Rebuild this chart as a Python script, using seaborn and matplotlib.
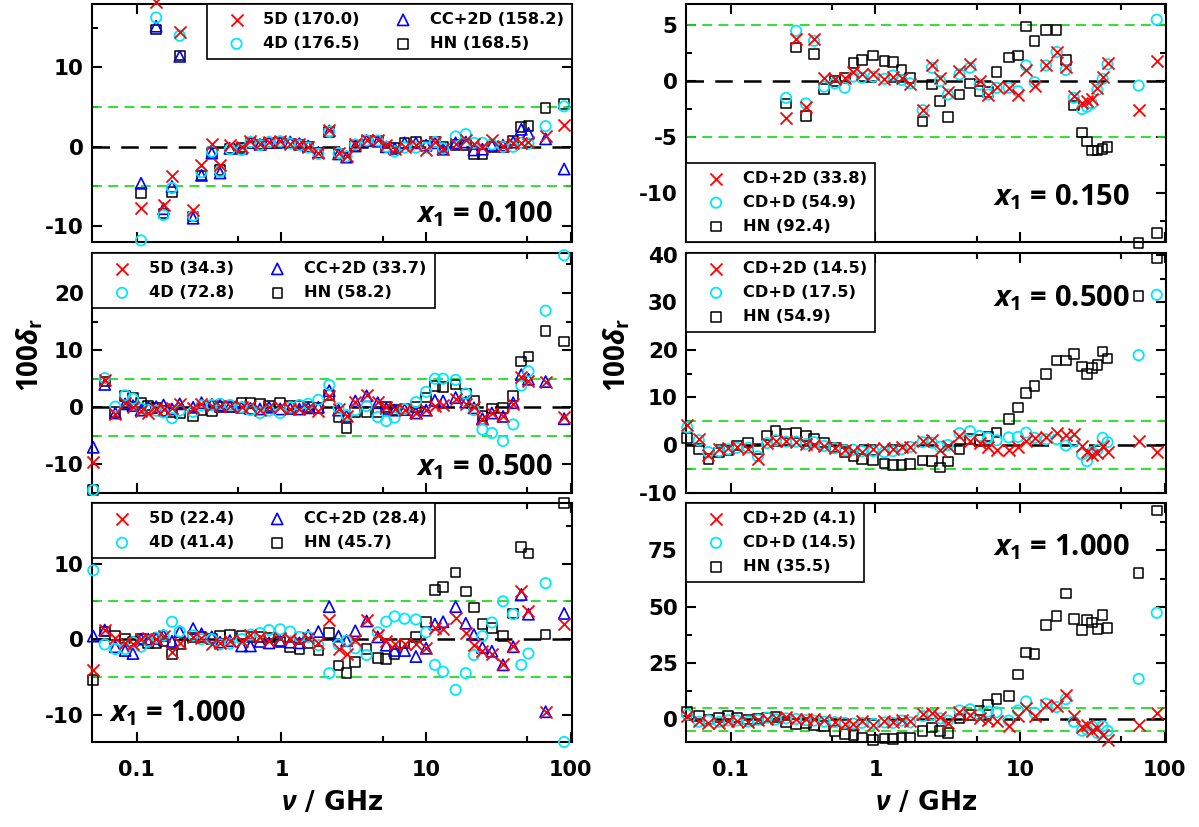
#!/usr/bin/env python3

# Import libraries
import numpy as np
import matplotlib
matplotlib.use("Agg")
import matplotlib.pyplot as plt
import seaborn as sns

nan = np.nan

# frequencies (GHz)
freq_left = [0.05, 0.06, 0.071, 0.083, 0.094, 0.107, 0.12, 0.136, 0.153, 0.175,
             0.198, 0.245, 0.28, 0.33, 0.376, 0.44, 0.53, 0.61, 0.71, 0.82,
             0.98, 1.15, 1.33, 1.53, 1.80, 2.14, 2.48, 2.82, 3.24, 3.88,
             4.63, 5.3, 6.05, 7.1, 8.5, 10.0, 11.5, 13.1, 16.0, 18.8,
             21.4, 24.5, 28.5, 34.0, 40.0, 45.5, 51.0, 67.0, 90.0]
freq_right = [0.05, 0.06, 0.07, 0.083, 0.096, 0.11, 0.132, 0.154, 0.178, 0.204,
              0.241, 0.283, 0.33, 0.376, 0.441, 0.523, 0.613, 0.703, 0.806, 0.966,
              1.153, 1.32, 1.515, 1.736, 2.12, 2.457, 2.80, 3.17, 3.81, 4.51,
              5.24, 6.0, 6.87, 8.34, 9.67, 11.0, 12.6, 15.1, 17.9, 20.7,
              23.5, 26.8, 29.0, 31.4, 34.2, 37.2, 40.2, 66.0, 88.0]

# x1 = 0.100 (left, top)
a_5d = [nan, nan, nan, nan, nan, -7.7, nan, 18.2, -7.3, -3.7,
        14.5, -8.0, -2.3, 0.3, -2.3, 0.2, 0.0, 0.7, 0.3, 0.6,
        0.7, 0.4, 0.3, 0.0, -0.8, 2.1, -0.8, -1.2, 0.3, 0.9,
        0.9, 0.2, -0.3, 0.0, 0.2, -0.4, 0.6, -0.3, 0.4, 0.8,
        0.3, 0.0, 0.8, 0.1, 0.5, 0.5, 0.6, 1.4, 2.7]
a_4d = [nan, nan, nan, nan, nan, -11.8, nan, 16.3, -8.6, -5.2,
        14.0, -8.7, -3.2, -0.6, -3.1, -0.3, -0.4, 0.6, 0.2, 0.6,
        0.7, 0.4, 0.2, -0.1, -0.9, 1.9, -0.8, -1.2, 0.3, 0.8,
        0.8, 0.0, -0.6, -0.1, -0.1, -0.1, 0.6, -0.2, 1.3, 1.6,
        0.5, 0.5, 0.3, 0.0, 0.0, 0.5, 0.4, 2.6, 5.1]
a_cc = [nan, nan, nan, nan, nan, -4.6, nan, 15.2, -7.8, -5.0,
        11.4, -9.0, -3.6, -0.8, -3.3, -0.2, -0.2, 0.6, 0.3, 0.6,
        0.6, 0.6, 0.4, 0.1, -0.7, 2.0, -0.9, -1.3, 0.1, 0.8,
        0.7, 0.0, -0.2, 0.5, 0.5, 0.2, 0.5, -0.3, 0.5, 0.6,
        -0.4, -0.3, 0.2, 0.2, 0.6, 2.2, 1.7, 1.0, -2.8]
a_hn = [nan, nan, nan, nan, nan, -5.8, nan, 14.8, -8.4, -5.7,
        11.5, -8.8, -3.6, -0.7, -2.9, -0.2, -0.1, 0.5, 0.3, 0.5,
        0.6, 0.4, 0.2, 0.0, -0.8, 1.9, -0.9, -1.3, 0.1, 0.7,
        0.7, 0.0, -0.1, 0.5, 0.6, 0.1, 0.6, 0.0, 0.2, 0.2,
        -0.9, -0.9, 0.0, 0.0, 0.8, 2.5, 2.6, 4.9, 5.4]

# x1 = 0.500 (left, middle)
b_5d = [-9.5, 4.7, -1.1, 0.8, 0.1, -0.7, -1.0, -0.3, -0.3, -0.2,
        0.6, -0.1, 0.6, 0.3, 0.3, 0.2, 0.1, 0.2, -0.4, 0.0,
        0.0, -0.3, -0.3, -0.1, -0.6, 2.0, -0.3, -1.5, 1.0, 2.1,
        1.0, 0.0, -0.3, -0.5, -1.0, -0.5, 0.3, 0.4, 1.5, 0.5,
        0.0, -2.0, -1.0, -1.5, 0.6, 5.3, 4.6, 4.5, -1.7]
b_4d = [-14.5, 5.1, 0.1, 2.1, 1.5, -0.2, -0.5, -0.6, -0.9, -1.9,
        -0.6, -0.8, 0.3, 0.4, 0.6, 0.4, 0.0, -0.5, -1.0, -0.6,
        -1.0, 0.0, 0.4, 0.6, 1.3, 3.9, -0.2, -1.4, -0.5, 0.2,
        -1.7, -2.4, -1.8, -0.3, 0.9, 2.7, 5.0, 5.0, 4.8, 2.4,
        -0.5, -3.9, -4.5, -5.9, -3.0, 3.8, 6.3, 16.9, 26.6]
b_cc = [-7.0, 4.0, -1.0, 0.6, 0.3, -0.5, 0.0, 0.1, 0.4, -0.3,
        0.6, 0.0, 0.8, 0.5, 0.4, 0.2, 0.0, -0.2, -0.3, 0.0,
        -0.3, -0.2, -0.3, -0.1, 0.0, 2.9, -0.5, -1.5, 1.1, 2.0,
        0.8, -0.2, -0.5, -0.4, -1.0, -0.5, 1.2, 1.1, 1.7, 0.9,
        -0.1, -2.0, -1.0, -1.6, 0.8, 5.7, 4.9, 4.5, -2.0]
b_hn = [-14.5, 4.5, -0.8, 2.0, 1.7, 0.8, 0.3, -0.1, -0.7, -0.9,
        -1.0, -1.5, -0.5, -0.7, 0.0, 0.1, 0.7, 0.8, 0.6, 0.2,
        0.7, 0.3, 0.3, 0.1, -0.1, 2.2, -1.8, -3.6, -0.8, -0.8,
        -0.8, 0.0, -0.5, -0.3, 0.0, 1.7, 3.7, 3.5, 4.0, 2.4,
        1.2, -1.5, -0.2, -0.1, 2.0, 8.0, 8.9, 13.4, 11.5]

# x1 = 1.000 (left, bottom)
c_5d = [-4.1, 1.2, 0.1, -0.5, -0.6, 0.0, 0.2, 0.0, 0.4, -1.7,
        -0.5, 0.3, 0.2, -0.6, -0.5, -0.3, -0.2, 0.5, 0.3, -0.2,
        0.2, 0.0, -0.3, 0.2, -0.5, 2.5, -1.3, -2.0, -0.1, 2.5,
        0.6, -0.2, -0.6, -0.6, -0.7, -1.2, 1.5, 1.3, 2.8, 0.8,
        -0.8, -1.6, -2.0, -3.3, -0.9, 6.3, 3.7, -9.6, 2.0]
c_4d = [9.1, -0.7, -1.3, -1.3, -0.4, -1.0, -0.3, 0.2, 0.5, 2.3,
        1.0, 0.5, 0.0, 0.0, -0.7, -0.6, 0.0, 0.6, 0.8, 1.2,
        1.3, 1.0, 0.3, 0.3, -0.8, -4.5, -0.7, -0.2, -1.2, -2.1,
        0.9, 2.3, 3.0, 2.7, 2.6, 0.9, -3.4, -4.3, -6.7, -4.5,
        -2.1, 0.4, 2.2, 5.0, 3.3, -3.4, -1.9, 7.4, -13.6]
c_cc = [0.4, 1.2, -1.0, -1.5, -1.9, 0.0, 0.0, 0.1, 0.5, -0.3,
        1.0, 1.4, 0.7, 0.3, -0.4, -0.2, -0.9, -0.9, -0.3, -0.5,
        -0.3, -0.4, -0.5, 0.5, 1.0, 4.3, 0.4, -0.2, 1.1, 2.4,
        0.3, -0.8, -1.5, -1.5, -2.3, -1.2, 2.0, 2.3, 4.3, 2.1,
        0.6, -1.1, -1.6, -3.4, -1.0, 5.9, 3.3, -9.6, 3.4]
c_hn = [-5.4, 1.0, 0.5, 0.1, -0.3, 0.0, -0.6, -0.6, -0.3, -2.0,
        -0.7, 0.2, 0.3, 0.0, 0.5, 0.6, 0.4, 0.3, 0.3, 0.2,
        -0.3, -1.0, -1.3, -0.5, -1.5, 0.8, -3.5, -4.5, -3.0, -1.3,
        -2.5, -2.6, -2.0, -0.6, 0.3, 2.3, 6.5, 6.9, 8.8, 6.3,
        4.2, 2.0, 1.5, 0.4, 3.4, 12.2, 11.3, 0.6, 18.0]

# x1 = 0.150 (right, top)
d_cd2d = [nan, nan, nan, nan, nan, nan, nan, nan, nan, nan,
          -3.3, 3.8, -2.3, 3.8, 0.3, 0.2, 0.3, 0.8, 0.6, 0.6,
          0.2, 0.4, 0.3, -0.3, -2.6, 1.4, 0.3, -1.0, 0.9, 1.5,
          0.0, -1.2, -0.5, -0.6, -1.2, 1.0, -0.4, 1.4, 2.6, 1.3,
          -1.3, -2.0, -1.8, -1.6, -0.6, 0.4, 1.6, -2.6, 1.8]
d_cdd = [nan, nan, nan, nan, nan, nan, nan, nan, nan, nan,
         -1.5, 4.5, -2.0, 3.6, -0.5, -0.2, -0.6, 0.4, 0.3, 0.4,
         0.2, 0.5, 0.1, -0.2, -2.6, 1.2, 0.0, -1.2, 0.6, 1.2,
         -0.3, -1.2, -0.6, -0.6, -0.9, 1.4, -0.1, 1.4, 2.6, 1.0,
         -1.5, -2.5, -2.3, -2.0, -0.8, 0.2, 1.5, -0.4, 5.5]
d_hn = [nan, nan, nan, nan, nan, nan, nan, nan, nan, nan,
        -2.0, 3.0, -3.1, 2.4, -0.7, 0.0, 0.3, 1.6, 1.9, 2.3,
        1.8, 1.7, 1.0, 0.3, -3.6, -0.3, -1.8, -3.2, -1.2, -0.2,
        -0.9, -1.0, 0.8, 2.1, 2.3, 4.9, 3.6, 4.6, 4.6, 1.9,
        -2.2, -4.6, -5.4, -6.2, -6.2, -6.1, -5.9, -14.5, -13.6]

# x1 = 0.500 (right, middle)
e_cd2d = [4.2, 1.2, -2.0, -0.8, -0.7, -0.5, -0.8, -2.9, 0.5, 0.9,
          0.8, 0.6, 0.3, 0.0, -0.2, -0.6, -1.0, -1.3, -1.4, -0.9,
          -0.7, -0.9, -0.5, -0.5, 0.8, 1.0, -1.1, -0.3, 1.9, 0.8,
          0.4, -0.5, -1.0, -1.0, -0.5, 0.8, 1.4, 1.6, 2.5, 2.0,
          2.3, -0.3, -1.5, -2.0, -1.6, -0.2, -1.5, 0.8, -1.5]
e_cdd = [3.7, 1.0, -1.5, -1.3, -0.9, -0.6, -0.6, -2.4, 0.4, 1.0,
         0.7, 0.7, 0.2, 0.6, -0.2, -0.7, -1.1, -1.0, -1.3, -1.3,
         -1.5, -1.3, -0.9, -0.4, 0.6, 0.5, -0.4, 0.0, 2.5, 2.9,
         1.9, 1.5, 1.0, 1.6, 1.7, 2.6, 1.5, 1.2, 1.2, -0.1,
         0.8, -2.0, -3.4, -1.5, -1.0, 1.5, 0.6, 18.9, 31.6]
e_hn = [1.5, -0.8, -3.0, -1.6, -1.0, -0.1, 0.5, -0.8, 2.0, 2.9,
        2.4, 2.5, 1.9, 1.3, 0.5, -0.5, -1.6, -2.4, -2.9, -3.2,
        -3.9, -4.2, -4.2, -4.0, -3.3, -3.4, -4.7, -3.5, -0.8, 1.3,
        1.0, 1.8, 2.6, 5.5, 7.9, 11.0, 12.4, 15.0, 17.8, 17.8,
        19.2, 16.5, 15.0, 16.2, 16.8, 19.7, 18.2, 31.3, 39.4]

# x1 = 1.000 (right, bottom)
f_cd2d = [1.5, -0.5, -1.5, -1.5, -0.8, -0.6, -1.0, -0.3, 0.4, 0.5,
          0.9, 0.3, 0.2, 0.3, -0.2, -1.0, -2.0, -2.0, -0.8, -2.5,
          -0.8, -1.0, -0.3, -0.8, 2.5, 3.0, 1.0, -1.5, 3.5, 2.0,
          0.5, -0.2, -0.5, -3.0, 1.5, 5.0, 1.5, 6.5, 6.0, 11.0,
          1.5, -3.5, -2.5, -5.0, -4.0, -7.0, -9.0, -2.5, 3.0]
f_cdd = [2.2, -1.0, -0.5, -1.0, -0.4, -0.5, -0.9, -0.2, 0.8, 0.0,
         0.5, 0.2, -0.3, -0.5, -1.0, -1.2, -1.5, -1.8, -1.5, -2.0,
         -1.3, -1.5, -0.5, -1.3, 1.5, 2.0, 0.5, -0.5, 4.0, 4.5,
         2.0, 3.5, 3.2, -0.5, 4.0, 8.0, 3.0, 7.0, 5.5, 9.0,
         -1.0, -5.0, -4.5, -3.0, -6.0, -3.0, -5.0, 18.0, 47.3]
f_hn = [3.5, 1.5, 0.0, 0.8, 1.5, 0.8, 0.0, 0.3, 0.8, 1.0,
        -1.0, -2.0, -1.5, -2.5, -3.0, -5.0, -6.5, -7.0, -8.0, -9.0,
        -8.5, -8.8, -8.0, -8.0, -5.0, -3.5, -5.0, -6.0, 0.5, 2.0,
        4.0, 6.5, 9.0, 10.5, 20.0, 29.7, 29.0, 41.8, 46.0, 55.8,
        44.5, 39.7, 44.0, 43.0, 40.0, 46.2, 40.5, 65.0, 92.7]

# legend labels
left_labels = [["5D (170.0)", "4D (176.5)", "CC+2D (158.2)", "HN (168.5)"],
               ["5D (34.3)", "4D (72.8)", "CC+2D (33.7)", "HN (58.2)"],
               ["5D (22.4)", "4D (41.4)", "CC+2D (28.4)", "HN (45.7)"]]
right_labels = [["CD+2D (33.8)", "CD+D (54.9)", "HN (92.4)"],
                ["CD+2D (14.5)", "CD+D (17.5)", "HN (54.9)"],
                ["CD+2D (4.1)", "CD+D (14.5)", "HN (35.5)"]]
notes = ["0.100", "0.500", "1.000", "0.150", "0.500", "1.000"]

FONT = "Open Sans"
WIDE = "DejaVu Sans"
sns.set_theme(style="ticks")
plt.rcParams.update({
    "font.family": [FONT, "DejaVu Sans"],
    "font.weight": "bold",
    "text.color": "black",
    "axes.labelcolor": "black",
    "axes.unicode_minus": False,
    "mathtext.fontset": "custom",
    "mathtext.rm": FONT + ":bold",
    "mathtext.it": FONT + ":italic:bold",
    "mathtext.bf": FONT + ":bold",
})

STYLES = {
    "x": dict(marker="x", color="#ff0000", s=75, linewidth=1.3, zorder=5),
    "o": dict(marker="o", color="#00e8ff", facecolor="none", edgecolor="#00e8ff",
              s=55, linewidth=1.3, zorder=4),
    "^": dict(marker="^", color="#0000ff", facecolor="none", edgecolor="#0000ff",
              s=65, linewidth=1.2, zorder=3),
    "s": dict(marker="s", color="black", facecolor="none", edgecolor="black",
              s=48, linewidth=1.1, zorder=2),
}


def panel(ax, freq, series, labels, ylim, major, minor, bottom):
    ax.axhline(0, color="black", ls=(0, (7, 4.5)), lw=1.8, zorder=1)
    for y in (5, -5):
        ax.axhline(y, color="#22dd22", ls=(0, (5.5, 3.5)), lw=1.3, zorder=1)
    handles = []
    for vals, kind, lab in zip(series[0], series[1], labels):
        sns.scatterplot(x=freq, y=vals, ax=ax, clip_on=False, legend=False,
                        **STYLES[kind])
        handles.append((ax.collections[-1], lab))
    ax.set_xscale("log")
    ax.set_xlim(0.049, 102)
    ax.set_ylim(*ylim)
    ax.set_xticks([0.1, 1, 10, 100])
    ax.set_xticks([0.5, 5, 50], minor=True)
    if bottom:
        ax.set_xticklabels(["0.1", "1", "10", "100"], fontsize=15,
                           fontfamily=WIDE, fontweight="bold")
    else:
        ax.set_xticklabels([])
    ax.set_xticklabels([], minor=True)
    ax.set_yticks(major)
    ax.set_yticks(minor, minor=True)
    ax.set_yticklabels([str(v) for v in major], fontsize=15.5,
                       fontfamily=WIDE, fontweight="bold")
    ax.tick_params(which="both", direction="in", top=True, right=True,
                   width=1.5, color="black", labelcolor="black")
    ax.tick_params(which="major", length=7)
    ax.tick_params(which="minor", length=4.5)
    ax.tick_params(axis="x", pad=13)
    ax.tick_params(axis="y", pad=6)
    for sp in ax.spines.values():
        sp.set_linewidth(1.5)
        sp.set_color("black")
    ax.set_xlabel("")
    ax.set_ylabel("")
    return handles


def add_legend(ax, handles, loc, ncol):
    h = [x[0] for x in handles]
    lab = [x[1] for x in handles]
    leg = ax.legend(h, lab, loc=loc, ncol=ncol, frameon=True, fancybox=False,
                    edgecolor="black", framealpha=1, borderaxespad=0,
                    prop=dict(family=WIDE, weight="bold", size=11.7),
                    handletextpad=0.3, columnspacing=1.3, handlelength=2.7,
                    labelspacing=0.55, borderpad=0.5, scatterpoints=1)
    leg.get_frame().set_linewidth(1.2)
    for t in leg.get_texts():
        t.set_color("black")
    leg.set_zorder(10)


def note(ax, value, x, y, ha):
    ax.text(x, y, r"$\mathit{x}_{\mathrm{1}}$ = " + value, transform=ax.transAxes,
            ha=ha, va="baseline", fontsize=21, fontweight="bold", color="black",
            zorder=11)


fig = plt.figure(figsize=(11.99, 8.27), dpi=100)
W, H = 1199, 827
left_x, right_x, aw = 92, 686, 480
rows = [(4, 242), (253, 493), (503, 742)]


def make_ax(x0, r):
    top, bot = rows[r]
    return fig.add_axes([x0 / W, 1 - bot / H, aw / W, (bot - top) / H])


kinds4 = ["x", "o", "^", "s"]
kinds3 = ["x", "o", "s"]

# left column
ax = make_ax(left_x, 0)
hs = panel(ax, freq_left, ([a_5d, a_4d, a_cc, a_hn], kinds4), left_labels[0],
           (-12, 18), [-10, 0, 10], [-5, 5, 15], False)
add_legend(ax, hs, "upper right", 2)
note(ax, notes[0], 0.96, 0.085, "right")

ax = make_ax(left_x, 1)
hs = panel(ax, freq_left, ([b_5d, b_4d, b_cc, b_hn], kinds4), left_labels[1],
           (-15, 27), [-10, 0, 10, 20], [-5, 5, 15, 25], False)
add_legend(ax, hs, "upper left", 2)
note(ax, notes[1], 0.96, 0.075, "right")

ax = make_ax(left_x, 2)
hs = panel(ax, freq_left, ([c_5d, c_4d, c_cc, c_hn], kinds4), left_labels[2],
           (-13.6, 18), [-10, 0, 10], [-5, 5, 15], True)
add_legend(ax, hs, "upper left", 2)
note(ax, notes[2], 0.035, 0.085, "left")

# right column
ax = make_ax(right_x, 0)
hs = panel(ax, freq_right, ([d_cd2d, d_cdd, d_hn], kinds3), right_labels[0],
           (-14.4, 6.9), [-10, -5, 0, 5], [-12.5, -7.5, -2.5, 2.5], False)
add_legend(ax, hs, "lower left", 1)
note(ax, notes[3], 0.925, 0.155, "right")

ax = make_ax(right_x, 1)
hs = panel(ax, freq_right, ([e_cd2d, e_cdd, e_hn], kinds3), right_labels[1],
           (-10.1, 40.4), [-10, 0, 10, 20, 30, 40], [-5, 5, 15, 25, 35], False)
add_legend(ax, hs, "upper left", 1)
note(ax, notes[4], 0.925, 0.78, "right")

ax = make_ax(right_x, 2)
hs = panel(ax, freq_right, ([f_cd2d, f_cdd, f_hn], kinds3), right_labels[2],
           (-10, 96), [0, 25, 50, 75], [12.5, 37.5, 62.5, 87.5], True)
add_legend(ax, hs, "upper left", 1)
note(ax, notes[5], 0.925, 0.78, "right")

# axis titles
ylab = r"100$\mathit{\delta}_{\mathrm{r}}$"
fig.text(30 / W, 1 - 355 / H, ylab, rotation=90, ha="center", va="center",
         fontsize=20, fontweight="bold", color="black")
fig.text(617 / W, 1 - 355 / H, ylab, rotation=90, ha="center", va="center",
         fontsize=20, fontweight="bold", color="black")
xlab = r"$\mathit{\nu}$ / GHz"
fig.text((left_x + aw / 2) / W, 1 - 803 / H, xlab, ha="center", va="center",
         fontsize=19, fontfamily=WIDE, fontweight="bold", color="black")
fig.text((right_x + aw / 2) / W, 1 - 803 / H, xlab, ha="center", va="center",
         fontsize=19, fontfamily=WIDE, fontweight="bold", color="black")

fig.savefig("out.png", dpi=100)
